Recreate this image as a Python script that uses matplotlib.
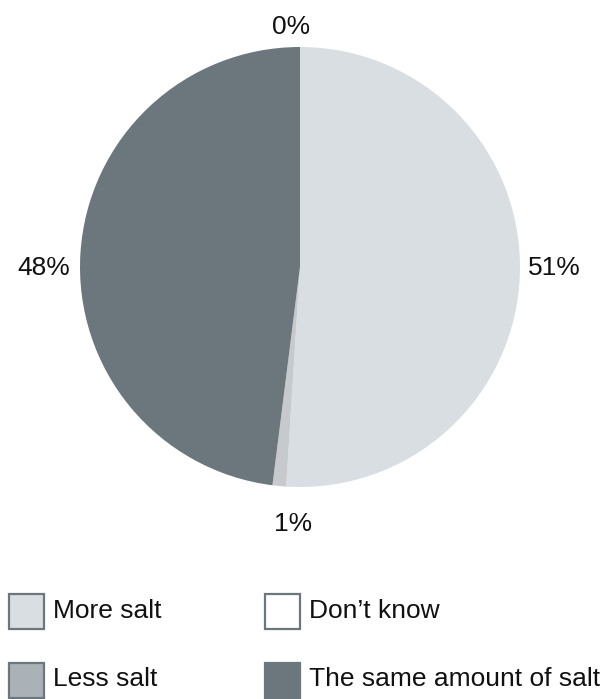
import matplotlib
matplotlib.use("Agg")
import matplotlib.pyplot as plt
from matplotlib.patches import Rectangle

plt.rcParams['font.family'] = ['Liberation Sans', 'DejaVu Sans']

categories = ["More salt", "Less salt", "The same amount of salt", "Don\u2019t know"]
values = [51, 1, 48, 0]
pie_colors = ["#d9dee2", "#c6cacd", "#6b767d", "#ffffff"]
legend_colors = {"More salt": "#d9dee2", "Don\u2019t know": "#ffffff",
                 "Less salt": "#aab2b8", "The same amount of salt": "#6b767d"}
legend_order = ["More salt", "Don\u2019t know", "Less salt", "The same amount of salt"]

W, H = 606, 699
fig = plt.figure(figsize=(W / 100, H / 100), dpi=100)

# Pie axes: centre (300, 267) px, radius 220 px
cx, cy, r = 300, 267, 220
ax = fig.add_axes([(cx - r) / W, (H - cy - r) / H, 2 * r / W, 2 * r / H])
ax.pie(values, colors=pie_colors, startangle=90, counterclock=False,
       radius=1, wedgeprops=dict(linewidth=0))
ax.set_xlim(-1, 1)
ax.set_ylim(-1, 1)
ax.set_aspect('equal')
ax.axis('off')

# Percentage labels placed around the pie
label_pos = {"More salt": (1.155, -0.005), "Less salt": (-0.03, -1.17),
             "The same amount of salt": (-1.165, -0.005), "Don\u2019t know": (-0.04, 1.09)}
for cat, v in zip(categories, values):
    x, y = label_pos[cat]
    ax.text(x, y, f"{v}%", ha='center', va='center', fontsize=19,
            color='#111111', clip_on=False)

# Legend drawn in pixel coordinates on an overlay axes
lax = fig.add_axes([0, 0, 1, 1])
lax.set_xlim(0, W)
lax.set_ylim(H, 0)
lax.axis('off')
cols_x = [8, 264]
rows_y = [593, 662]
box = 37
for i, cat in enumerate(legend_order):
    x0 = cols_x[i % 2]
    y0 = rows_y[i // 2]
    lax.add_patch(Rectangle((x0 + 1, y0 + 1), box - 2, box - 2,
                            facecolor=legend_colors[cat], edgecolor='#6b767d',
                            linewidth=1.6))
    lax.text(x0 + box + 8, y0 + box / 2 - 1, cat, ha='left', va='center',
             fontsize=19, color='#111111')

fig.savefig("out.png", dpi=100)
